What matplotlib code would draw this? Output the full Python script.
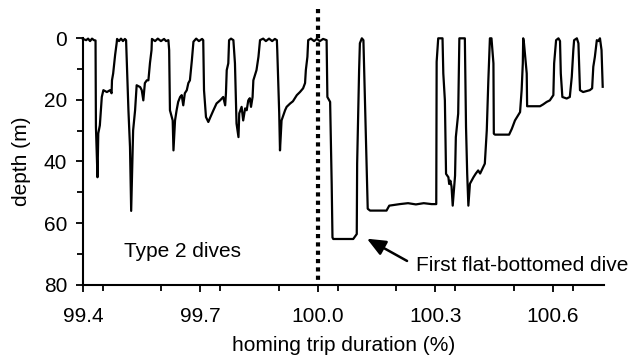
import numpy as np
import matplotlib
matplotlib.use('Agg')
import matplotlib.pyplot as plt
import matplotlib.ticker as ticker

plt.rcParams['font.family'] = ['Liberation Sans', 'DejaVu Sans']

##################################################################
# 1. Dive trace (time in % of trip, depth in m)
##################################################################
trip_pct = [
    99.400, 99.408, 99.413, 99.418, 99.423, 99.428, 99.432, 99.433, 99.437, 99.439,
    99.443, 99.448, 99.452, 99.461, 99.469, 99.473, 99.474, 99.477, 99.482, 99.486,
    99.487, 99.492, 99.497, 99.502, 99.507, 99.510, 99.516, 99.520, 99.523, 99.528,
    99.533, 99.537, 99.546, 99.550, 99.554, 99.558, 99.563, 99.567, 99.571, 99.575,
    99.576, 99.584, 99.591, 99.599, 99.607, 99.612, 99.618, 99.620, 99.622, 99.629,
    99.631, 99.635, 99.639, 99.643, 99.648, 99.652, 99.656, 99.660, 99.665, 99.669,
    99.673, 99.678, 99.682, 99.689, 99.696, 99.704, 99.707, 99.709, 99.714, 99.720,
    99.724, 99.733, 99.741, 99.750, 99.758, 99.763, 99.765, 99.767, 99.771, 99.773,
    99.778, 99.784, 99.788, 99.792, 99.797, 99.799, 99.805, 99.809, 99.814, 99.818,
    99.822, 99.826, 99.829, 99.833, 99.835, 99.843, 99.848, 99.852, 99.860, 99.867,
    99.875, 99.883, 99.890, 99.895, 99.896, 99.901, 99.903, 99.907, 99.916, 99.920,
    99.929, 99.936, 99.946, 99.954, 99.962, 99.967, 99.969, 99.973, 99.975, 99.982,
    99.990, 99.997, 100.005, 100.013, 100.022, 100.024, 100.031, 100.035, 100.037, 100.039,
    100.090, 100.099, 100.100, 100.105, 100.107, 100.112, 100.116, 100.118, 100.124, 100.127,
    100.133, 100.175, 100.182, 100.209, 100.230, 100.250, 100.270, 100.290, 100.302, 100.303,
    100.307, 100.318, 100.320, 100.324, 100.327, 100.333, 100.335, 100.338, 100.341, 100.344,
    100.350, 100.352, 100.358, 100.361, 100.375, 100.378, 100.381, 100.384, 100.388, 100.397,
    100.403, 100.409, 100.414, 100.422, 100.426, 100.431, 100.435, 100.439, 100.443, 100.448,
    100.449, 100.452, 100.488, 100.495, 100.503, 100.511, 100.516, 100.520, 100.523, 100.524,
    100.526, 100.533, 100.534, 100.567, 100.575, 100.584, 100.592, 100.601, 100.603, 100.608,
    100.614, 100.618, 100.620, 100.624, 100.635, 100.643, 100.648, 100.652, 100.654, 100.661,
    100.665, 100.669, 100.677, 100.694, 100.700, 100.703, 100.707, 100.712, 100.716, 100.720,
    100.724, 100.727,
]
depth_m = [
    0.3, 0.7, 0.2, 1.0, 0.2, 0.7, 0.8, 28.8, 45.1, 30.9,
    28.3, 19.1, 16.9, 17.5, 16.9, 17.9, 13.7, 11.5, 5.5, 1.6,
    0.3, 1.0, 0.2, 1.0, 0.3, 0.7, 23.4, 35.3, 56.0, 29.9,
    23.4, 15.3, 15.9, 16.9, 20.2, 14.6, 13.7, 13.7, 8.1, 3.9,
    0.3, 1.0, 0.2, 1.0, 0.3, 1.0, 0.7, 3.9, 23.4, 26.7,
    36.4, 26.7, 23.4, 20.7, 19.1, 18.5, 21.8, 17.9, 16.9, 14.6,
    13.7, 7.2, 1.2, 0.2, 1.0, 0.3, 0.7, 16.9, 25.6, 27.2,
    26.0, 23.4, 21.2, 20.2, 19.1, 21.8, 17.9, 10.4, 8.2, 0.7,
    0.2, 0.7, 8.2, 27.7, 32.1, 24.4, 22.3, 26.7, 22.8, 23.4,
    20.2, 19.5, 22.3, 19.1, 13.7, 10.4, 6.1, 0.7, 0.2, 1.0,
    0.2, 1.0, 0.3, 0.7, 3.9, 24.4, 36.4, 26.7, 23.4, 22.3,
    21.2, 20.5, 18.5, 17.5, 16.3, 14.6, 10.4, 6.1, 0.7, 0.2,
    1.0, 0.3, 1.0, 0.3, 0.7, 19.1, 20.7, 47.3, 64.6, 65.1,
    65.1, 63.5, 40.7, 10.4, 1.7, 0.1, 0.7, 10.4, 40.7, 55.3,
    55.9, 55.9, 54.3, 53.8, 53.5, 53.9, 53.5, 53.8, 53.8, 7.7,
    0.1, 0.1, 11.5, 20.2, 44.0, 45.1, 47.3, 46.2, 48.1, 54.3,
    44.6, 32.1, 24.5, 0.1, 0.1, 28.8, 44.0, 54.3, 47.2, 45.1,
    43.9, 42.9, 43.9, 41.8, 40.7, 29.9, 13.7, 0.1, 0.1, 8.2,
    31.0, 31.3, 31.3, 29.4, 26.7, 25.0, 24.0, 16.9, 8.2, 0.1,
    1.7, 11.5, 22.1, 22.1, 21.5, 20.7, 20.2, 18.5, 8.2, 0.7,
    0.1, 1.0, 11.5, 19.1, 19.6, 19.1, 12.6, 3.9, 0.7, 0.1,
    1.7, 16.9, 17.5, 16.9, 16.3, 9.3, 6.1, 0.7, 1.0, 0.1,
    3.9, 15.8,
]

x_ticks = [99.4, 99.7, 100.0, 100.3, 100.6]
x_tick_labels = ['99.4', '99.7', '100.0', '100.3', '100.6']
y_ticks = [0, 20, 40, 60, 80]

##################################################################
# 2. Plot
##################################################################
fig = plt.figure(figsize=(6.37, 3.63), dpi=100)
ax = fig.add_axes([0.1303, 0.2149, 0.8177, 0.6804])

ax.plot(trip_pct, depth_m, color='black', linewidth=1.6, clip_on=False, zorder=3)

# end of homing trip marker
ax.plot([100.0, 100.0], [-9.5, 80], color='black', linewidth=3.0,
        linestyle=(0, (1, 1)), dash_capstyle='butt', clip_on=False, zorder=2)

ax.set_xlim(99.4, 100.73)
ax.set_ylim(80, 0)

ax.set_xticks(x_ticks)
ax.set_xticklabels(x_tick_labels)
ax.set_yticks(y_ticks)
ax.xaxis.set_minor_locator(ticker.MultipleLocator(0.15))
ax.yaxis.set_minor_locator(ticker.MultipleLocator(10))
ax.tick_params(which='major', direction='out', length=5, width=1.3, labelsize=15)
ax.tick_params(which='minor', direction='out', length=4, width=1.3)
ax.tick_params(axis='x', which='major', pad=11)
ax.tick_params(axis='y', which='major', pad=6.5)

for side in ['top', 'right']:
    ax.spines[side].set_visible(False)
for side in ['left', 'bottom']:
    ax.spines[side].set_linewidth(1.5)

ax.set_xlabel('homing trip duration (%)', fontsize=15, labelpad=7)
ax.set_ylabel('depth (m)', fontsize=15, labelpad=9)

ax.text(99.505, 69, 'Type 2 dives', fontsize=15, ha='left', va='center')
ax.annotate('First flat-bottomed dive', xy=(100.125, 65), xytext=(100.25, 73.8),
            fontsize=15, ha='left', va='center',
            arrowprops=dict(arrowstyle='-|>,head_length=0.75,head_width=0.32',
                            color='black', lw=1.8, relpos=(0, 0.5),
                            shrinkA=5, shrinkB=0))

fig.savefig('out.png', dpi=100)
